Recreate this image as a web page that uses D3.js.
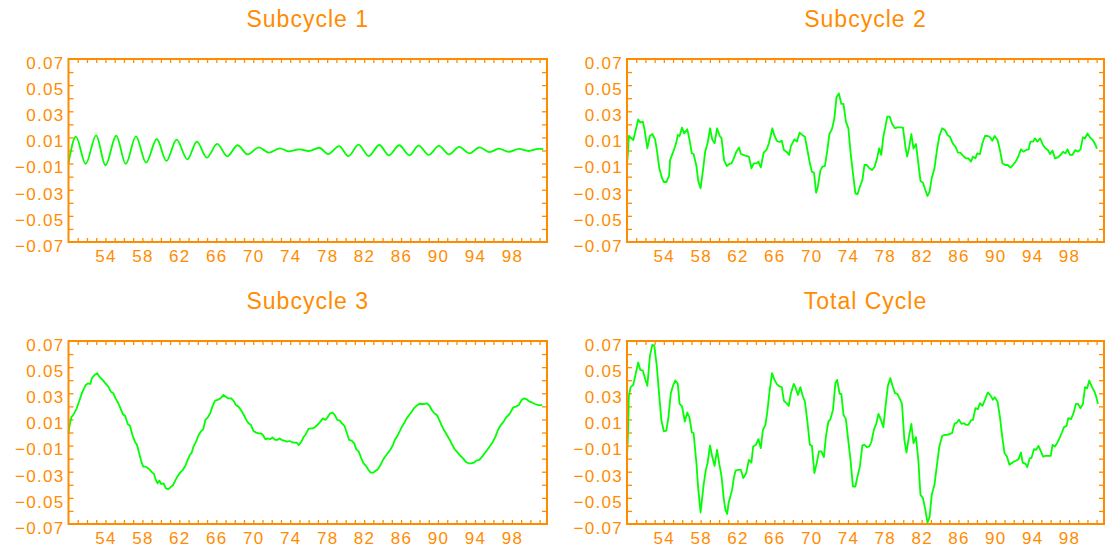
<!DOCTYPE html>
<html><head><meta charset="utf-8">
<script src="https://cdn.jsdelivr.net/npm/d3@7"></script>
<style>body{margin:0;background:#fff;overflow:hidden}</style>
</head><body><svg id="c" width="1106" height="549"></svg>
<script>
const titles = ["Subcycle 1", "Subcycle 2", "Subcycle 3", "Total Cycle"];
const yTickLabels = [0.07, 0.05, 0.03, 0.01, -0.01, -0.03, -0.05, -0.07];
const xTickLabels = [54, 58, 62, 66, 70, 74, 78, 82, 86, 90, 94, 98];
const xDomain = [50, 101.8];
const yDomain = [-0.07, 0.07];

// Subcycle 1: turning points of the short oscillation
const sub1Years = [50.0, 50.8, 51.86, 52.99, 54.0, 55.17, 56.2, 57.3, 58.4, 59.56, 60.6, 61.7, 62.87, 63.9, 64.97, 66.1, 67.2, 68.3, 69.4, 70.6, 71.7, 72.9, 73.8, 75.0, 76.0, 77.15, 78.1, 79.3, 80.3, 81.4, 82.5, 83.65, 84.7, 85.8, 86.9, 87.9, 89.0, 90.1, 91.2, 92.3, 93.4, 94.5, 95.6, 96.6, 97.65, 98.75, 99.8, 100.9, 101.4];
const sub1Values = [-0.0098, 0.0106, -0.0103, 0.0116, -0.0113, 0.0113, -0.0103, 0.0108, -0.0093, 0.0088, -0.0080, 0.0083, -0.0068, 0.0068, -0.0055, 0.0050, -0.0045, 0.0040, -0.0030, 0.0024, -0.0017, 0.0017, -0.0006, 0.0009, -0.0004, 0.0021, -0.0028, 0.0033, -0.0043, 0.0045, -0.0043, 0.0042, -0.0037, 0.0040, -0.0037, 0.0037, -0.0034, 0.0035, -0.0030, 0.0027, -0.0022, 0.0024, -0.0012, 0.0014, -0.0010, 0.0012, -0.0004, 0.0013, 0.0010];

const sub2Years = [50.0, 50.1, 50.2, 50.69, 51.22, 51.45, 51.72, 51.91, 52.21, 52.48, 52.75, 53.05, 53.24, 53.51, 53.81, 54.0, 54.27, 54.57, 54.68, 55.03, 55.33, 55.52, 55.71, 55.98, 56.21, 56.55, 56.78, 57.04, 57.23, 57.54, 57.73, 57.99, 58.30, 58.49, 58.75, 59.02, 59.25, 59.51, 59.78, 60.08, 60.27, 60.54, 60.84, 61.11, 61.34, 61.60, 61.87, 62.17, 62.37, 62.63, 62.94, 63.24, 63.51, 63.77, 64.08, 64.27, 64.53, 64.84, 65.14, 65.41, 65.79, 65.98, 66.28, 66.55, 66.81, 67.04, 67.31, 67.61, 67.80, 68.18, 68.45, 68.75, 69.02, 69.32, 69.59, 69.86, 70.08, 70.31, 70.54, 70.73, 71.00, 71.22, 71.49, 71.76, 71.98, 72.25, 72.52, 72.75, 73.01, 73.28, 73.51, 73.77, 74.04, 74.27, 74.53, 74.80, 75.03, 75.29, 75.56, 75.79, 76.05, 76.32, 76.62, 76.89, 77.16, 77.38, 77.61, 77.84, 78.07, 78.26, 78.52, 78.79, 79.10, 79.36, 79.67, 79.97, 80.24, 80.43, 80.65, 80.88, 81.11, 81.38, 81.64, 81.87, 82.14, 82.40, 82.63, 82.86, 83.09, 83.39, 83.66, 83.92, 84.23, 84.53, 84.80, 85.06, 85.37, 85.67, 85.94, 86.21, 86.51, 86.81, 87.08, 87.35, 87.57, 87.84, 88.03, 88.33, 88.60, 88.87, 89.17, 89.44, 89.67, 89.93, 90.24, 90.50, 90.77, 91.07, 91.34, 91.64, 91.91, 92.21, 92.52, 92.78, 93.05, 93.35, 93.62, 93.81, 94.11, 94.30, 94.57, 94.87, 95.18, 95.44, 95.71, 95.94, 96.21, 96.47, 96.78, 97.08, 97.35, 97.61, 97.84, 98.11, 98.37, 98.68, 98.98, 99.25, 99.51, 99.74, 100.01, 100.27, 100.58, 100.88, 101.03];
const sub2Values = [-0.0103, -0.0022, 0.0111, 0.0080, 0.0238, 0.0213, 0.0221, 0.0157, 0.0017, 0.0111, 0.0126, 0.0085, 0.0004, -0.0136, -0.0213, -0.0241, -0.0241, -0.0195, -0.0073, -0.0009, 0.0055, 0.0119, 0.0111, 0.0175, 0.0131, 0.0162, 0.0085, -0.0022, -0.0027, -0.0119, -0.0231, -0.0289, -0.0124, -0.0009, 0.0055, 0.0170, 0.0085, 0.0055, 0.0170, 0.0111, 0.0093, -0.0073, -0.0119, -0.0103, -0.0098, -0.0060, -0.0009, 0.0022, -0.0027, -0.0034, -0.0042, -0.0047, -0.0136, -0.0098, -0.0098, -0.0085, -0.0129, -0.0017, 0.0004, 0.0055, 0.0170, 0.0119, 0.0073, 0.0065, 0.0075, 0.0004, -0.0009, -0.0034, 0.0034, 0.0085, 0.0068, 0.0136, 0.0119, 0.0106, 0.0004, -0.0098, -0.0162, -0.0170, -0.0323, -0.0277, -0.0154, -0.0124, -0.0119, 0.0004, 0.0126, 0.0162, 0.0246, 0.0407, 0.0437, 0.0356, 0.0356, 0.0221, 0.0170, -0.0009, -0.0170, -0.0328, -0.0335, -0.0277, -0.0226, -0.0111, -0.0111, -0.0136, -0.0149, -0.0124, -0.0060, 0.0017, -0.0034, 0.0106, 0.0187, 0.0259, 0.0259, 0.0203, 0.0170, 0.0177, 0.0177, 0.0175, 0.0024, -0.0047, 0.0029, 0.0126, 0.0014, 0.0050, -0.0098, -0.0233, -0.0246, -0.0302, -0.0348, -0.0315, -0.0213, -0.0136, 0.0004, 0.0111, 0.0170, 0.0157, 0.0119, 0.0106, 0.0055, 0.0029, -0.0017, -0.0017, -0.0042, -0.0060, -0.0060, -0.0085, -0.0047, -0.0060, -0.0022, -0.0027, 0.0055, 0.0111, 0.0111, 0.0101, 0.0075, 0.0111, 0.0080, 0.0004, -0.0098, -0.0111, -0.0111, -0.0131, -0.0111, -0.0085, -0.0042, 0.0009, -0.0009, 0.0004, 0.0009, 0.0068, 0.0068, 0.0093, 0.0068, 0.0093, 0.0042, 0.0017, 0.0004, -0.0027, -0.0001, -0.0060, -0.0052, -0.0034, -0.0009, -0.0022, 0.0009, -0.0034, -0.0034, 0.0004, -0.0009, 0.0009, 0.0101, 0.0093, 0.0131, 0.0101, 0.0080, 0.0042, 0.0014];

// Subcycle 3: [year, value]
const sub3Points = [[50.0,-0.0006],[50.1,0.0045],[50.30,0.0116],[50.58,0.0142],[50.89,0.0185],[51.20,0.0249],[51.47,0.0305],[51.86,0.0363],[52.13,0.0376],[52.37,0.0371],[52.52,0.0414],[52.83,0.0440],[53.11,0.0453],[53.34,0.0427],[53.69,0.0402],[54.00,0.0376],[54.31,0.0351],[54.58,0.0312],[54.86,0.0300],[55.09,0.0261],[55.36,0.0228],[55.63,0.0185],[55.87,0.0142],[56.14,0.0126],[56.41,0.0065],[56.65,0.0052],[56.92,-0.0019],[57.19,-0.0070],[57.42,-0.0096],[57.70,-0.0172],[57.89,-0.0223],[58.09,-0.0261],[58.36,-0.0261],[58.67,-0.0277],[58.98,-0.0300],[59.25,-0.0317],[59.45,-0.0363],[59.64,-0.0389],[59.84,-0.0368],[60.03,-0.0394],[60.30,-0.0389],[60.54,-0.0427],[60.77,-0.0434],[61.00,-0.0422],[61.32,-0.0402],[61.59,-0.0363],[61.78,-0.0338],[62.09,-0.0307],[62.37,-0.0287],[62.64,-0.0256],[62.87,-0.0215],[63.14,-0.0172],[63.34,-0.0154],[63.53,-0.0108],[63.81,-0.0070],[64.04,-0.0027],[64.31,0.0006],[64.58,0.0024],[64.82,0.0096],[65.09,0.0116],[65.36,0.0152],[65.60,0.0203],[65.87,0.0244],[66.14,0.0249],[66.45,0.0261],[66.76,0.0287],[67.04,0.0274],[67.31,0.0261],[67.62,0.0261],[67.89,0.0241],[68.12,0.0210],[68.40,0.0198],[68.67,0.0172],[68.98,0.0134],[69.25,0.0096],[69.49,0.0070],[69.76,0.0057],[70.03,0.0011],[70.26,0.0001],[70.54,-0.0006],[70.81,-0.0006],[71.04,-0.0019],[71.32,-0.0052],[71.59,-0.0045],[71.82,-0.0052],[72.09,-0.0037],[72.37,-0.0057],[72.60,-0.0057],[72.87,-0.0045],[73.07,-0.0057],[73.34,-0.0062],[73.65,-0.0070],[73.92,-0.0065],[74.16,-0.0073],[74.43,-0.0078],[74.70,-0.0078],[74.93,-0.0096],[75.21,-0.0070],[75.48,-0.0032],[75.71,-0.0011],[75.98,0.0027],[76.26,0.0032],[76.49,0.0032],[76.76,0.0045],[77.04,0.0065],[77.27,0.0083],[77.54,0.0108],[77.81,0.0096],[78.05,0.0116],[78.32,0.0147],[78.59,0.0152],[78.82,0.0134],[79.10,0.0096],[79.37,0.0091],[79.60,0.0070],[79.88,0.0050],[80.15,-0.0006],[80.38,-0.0057],[80.65,-0.0062],[80.93,-0.0083],[81.16,-0.0129],[81.43,-0.0147],[81.70,-0.0198],[81.94,-0.0236],[82.21,-0.0256],[82.48,-0.0287],[82.72,-0.0307],[82.99,-0.0307],[83.26,-0.0292],[83.49,-0.0282],[83.77,-0.0249],[84.04,-0.0210],[84.27,-0.0185],[84.55,-0.0159],[84.82,-0.0134],[85.13,-0.0096],[85.32,-0.0057],[85.60,-0.0027],[85.83,0.0006],[86.10,0.0045],[86.37,0.0075],[86.61,0.0108],[86.88,0.0134],[87.15,0.0159],[87.39,0.0185],[87.66,0.0203],[87.93,0.0218],[88.24,0.0218],[88.55,0.0218],[88.82,0.0223],[89.10,0.0203],[89.33,0.0172],[89.60,0.0147],[89.88,0.0134],[90.11,0.0101],[90.38,0.0057],[90.65,0.0019],[90.96,-0.0019],[91.28,-0.0057],[91.55,-0.0096],[91.82,-0.0129],[92.13,-0.0154],[92.44,-0.0180],[92.72,-0.0198],[92.99,-0.0223],[93.30,-0.0236],[93.61,-0.0236],[93.88,-0.0231],[94.16,-0.0215],[94.47,-0.0210],[94.78,-0.0185],[95.05,-0.0159],[95.32,-0.0134],[95.63,-0.0103],[95.95,-0.0070],[96.22,-0.0032],[96.49,0.0019],[96.80,0.0057],[97.11,0.0083],[97.39,0.0116],[97.66,0.0134],[97.89,0.0159],[98.16,0.0193],[98.44,0.0198],[98.75,0.0210],[99.06,0.0249],[99.33,0.0261],[99.60,0.0254],[99.91,0.0236],[100.23,0.0228],[100.50,0.0218],[100.89,0.0210],[101.28,0.0210]];

// Total cycle: [year, value]
const totalPoints = [[50.0,-0.0184],[50.1,-0.0031],[50.2,0.0275],[50.39,0.0347],[50.69,0.0365],[50.96,0.0454],[51.22,0.0536],[51.45,0.0479],[51.72,0.0474],[51.98,0.0408],[52.21,0.0357],[52.48,0.0581],[52.75,0.0671],[52.97,0.0663],[53.24,0.0505],[53.43,0.0339],[53.73,0.0097],[54.00,0.0008],[54.27,0.0015],[54.49,0.0110],[54.76,0.0301],[55.03,0.0365],[55.25,0.0398],[55.52,0.0372],[55.71,0.0219],[55.98,0.0199],[56.28,0.0084],[56.55,0.0153],[56.78,0.0117],[57.04,0.0000],[57.23,-0.0005],[57.54,-0.0235],[57.73,-0.0426],[57.99,-0.0612],[58.30,-0.0413],[58.56,-0.0286],[58.75,-0.0235],[59.02,-0.0099],[59.25,-0.0184],[59.51,-0.0255],[59.78,-0.0133],[60.01,-0.0235],[60.27,-0.0337],[60.50,-0.0502],[60.69,-0.0592],[60.88,-0.0622],[61.03,-0.0541],[61.22,-0.0490],[61.41,-0.0439],[61.60,-0.0349],[61.79,-0.0291],[62.06,-0.0286],[62.37,-0.0286],[62.63,-0.0349],[62.94,-0.0311],[63.24,-0.0209],[63.51,-0.0230],[63.70,-0.0107],[64.00,-0.0094],[64.27,-0.0051],[64.53,-0.0120],[64.76,0.0020],[65.03,0.0059],[65.22,0.0148],[65.48,0.0314],[65.75,0.0454],[65.98,0.0408],[66.28,0.0370],[66.55,0.0352],[66.81,0.0347],[67.04,0.0242],[67.31,0.0224],[67.57,0.0204],[67.80,0.0301],[68.11,0.0372],[68.33,0.0339],[68.56,0.0288],[68.83,0.0347],[69.10,0.0275],[69.32,0.0237],[69.59,0.0084],[69.86,-0.0094],[70.08,-0.0102],[70.35,-0.0311],[70.62,-0.0230],[70.84,-0.0145],[71.11,-0.0145],[71.38,-0.0189],[71.60,-0.0031],[71.87,0.0084],[72.06,0.0097],[72.37,0.0173],[72.63,0.0377],[72.82,0.0403],[73.09,0.0296],[73.28,0.0296],[73.51,0.0135],[73.77,0.0102],[73.96,-0.0018],[74.27,-0.0209],[74.53,-0.0413],[74.80,-0.0413],[75.03,-0.0337],[75.29,-0.0260],[75.56,-0.0099],[75.79,-0.0094],[76.05,-0.0112],[76.32,-0.0107],[76.55,-0.0069],[76.81,0.0020],[77.08,0.0071],[77.31,0.0143],[77.57,0.0097],[77.84,0.0041],[78.07,0.0199],[78.33,0.0357],[78.60,0.0416],[78.83,0.0357],[79.10,0.0301],[79.36,0.0296],[79.59,0.0263],[79.86,0.0219],[80.12,-0.0056],[80.35,-0.0153],[80.62,-0.0031],[80.88,0.0066],[81.11,-0.0082],[81.38,-0.0036],[81.64,-0.0214],[81.87,-0.0477],[82.14,-0.0502],[82.40,-0.0592],[82.63,-0.0689],[82.86,-0.0648],[83.09,-0.0477],[83.39,-0.0400],[83.66,-0.0247],[83.92,-0.0107],[84.23,-0.0026],[84.53,-0.0018],[84.80,-0.0018],[85.06,-0.0010],[85.29,-0.0005],[85.56,0.0066],[85.83,0.0077],[86.05,0.0097],[86.32,0.0066],[86.59,0.0071],[86.81,0.0059],[87.08,0.0059],[87.35,0.0092],[87.57,0.0097],[87.84,0.0186],[88.11,0.0179],[88.33,0.0224],[88.60,0.0204],[88.87,0.0250],[89.17,0.0306],[89.44,0.0288],[89.74,0.0250],[89.93,0.0270],[90.24,0.0237],[90.50,0.0117],[90.77,-0.0043],[91.00,-0.0158],[91.26,-0.0184],[91.53,-0.0247],[91.76,-0.0235],[92.02,-0.0222],[92.29,-0.0214],[92.52,-0.0204],[92.78,-0.0153],[92.97,-0.0230],[93.28,-0.0240],[93.47,-0.0265],[93.73,-0.0196],[93.92,-0.0196],[94.19,-0.0128],[94.42,-0.0133],[94.68,-0.0102],[94.95,-0.0145],[95.18,-0.0184],[95.44,-0.0179],[95.71,-0.0179],[96.02,-0.0179],[96.21,-0.0094],[96.47,-0.0107],[96.70,-0.0082],[96.97,-0.0043],[97.23,0.0000],[97.46,0.0041],[97.73,0.0051],[97.92,0.0110],[98.22,0.0102],[98.49,0.0148],[98.75,0.0219],[98.98,0.0219],[99.25,0.0186],[99.51,0.0219],[99.74,0.0347],[99.97,0.0339],[100.20,0.0398],[100.50,0.0347],[100.76,0.0314],[100.95,0.0275],[101.14,0.0219]];

const ORANGE = "#ff8c00";
const GREEN = "#00ff00";
const FONT = "'Liberation Sans', Arial, sans-serif";

const series = [
  {data: d3.zip(sub1Years, sub1Values), curve: d3.curveMonotoneX},
  {data: d3.zip(sub2Years, sub2Values), curve: d3.curveLinear},
  {data: sub3Points, curve: d3.curveLinear},
  {data: totalPoints, curve: d3.curveLinear}
];

const layout = [
  {x0: 68.5, x1: 547, y0: 59, y1: 242},
  {x0: 627, x1: 1104, y0: 59, y1: 242},
  {x0: 68.5, x1: 547, y0: 341, y1: 524},
  {x0: 627, x1: 1104, y0: 341, y1: 524}
];

const svg = d3.select("#c");
svg.append("rect").attr("width", 1106).attr("height", 549).attr("fill", "#fff");

layout.forEach((p, i) => {
  const x = d3.scaleLinear().domain(xDomain).range([p.x0, p.x1]);
  const y = d3.scaleLinear().domain(yDomain).range([p.y1, p.y0]);
  const g = svg.append("g");

  // title
  g.append("text")
    .attr("x", (p.x0 + p.x1) / 2).attr("y", p.y0 - 32)
    .attr("text-anchor", "middle")
    .attr("fill", ORANGE)
    .style("font-family", FONT).style("font-size", "23px").style("letter-spacing", "1px")
    .text(titles[i]);

  // inner ticks on all four sides
  const minorY = d3.range(-6, 7).map(d => d / 100);
  const minorX = d3.range(51, 102);
  const tickAxes = [
    [d3.axisLeft(y).tickValues(minorY).tickSize(-5), `translate(${p.x0},0)`],
    [d3.axisRight(y).tickValues(minorY).tickSize(-5), `translate(${p.x1},0)`],
    [d3.axisBottom(x).tickValues(minorX).tickSize(-4), `translate(0,${p.y1})`],
    [d3.axisTop(x).tickValues(minorX).tickSize(-4), `translate(0,${p.y0})`]
  ];
  tickAxes.forEach(([ax, tr]) => {
    const a = g.append("g").attr("transform", tr).call(ax.tickFormat(""));
    a.select(".domain").remove();
    a.selectAll("line").attr("stroke", ORANGE).attr("stroke-width", 1.3);
  });

  // y labels
  const yl = g.append("g").attr("transform", `translate(${p.x0},0)`)
    .call(d3.axisLeft(y).tickValues(yTickLabels).tickSize(0).tickPadding(4).tickFormat(d3.format(".2f")));
  yl.select(".domain").remove();
  yl.selectAll("text").attr("fill", ORANGE).attr("dy", "0.55em")
    .style("font-family", FONT).style("font-size", "17px").style("letter-spacing", "1.3px");

  // x labels
  const xl = g.append("g").attr("transform", `translate(0,${p.y1})`)
    .call(d3.axisBottom(x).tickValues(xTickLabels).tickSize(0).tickPadding(8).tickFormat(d3.format("d")));
  xl.select(".domain").remove();
  xl.selectAll("text").attr("fill", ORANGE)
    .style("font-family", FONT).style("font-size", "17px").style("letter-spacing", "1.3px");

  // series line
  const line = d3.line().x(d => x(d[0])).y(d => y(d[1])).curve(series[i].curve);
  g.append("path").datum(series[i].data)
    .attr("d", line).attr("fill", "none")
    .attr("stroke", GREEN).attr("stroke-width", 1.8).attr("stroke-linejoin", "round");

  // frame
  g.append("rect").attr("x", p.x0).attr("y", p.y0)
    .attr("width", p.x1 - p.x0).attr("height", p.y1 - p.y0)
    .attr("fill", "none").attr("stroke", ORANGE).attr("stroke-width", 2);
});
</script></body></html>
